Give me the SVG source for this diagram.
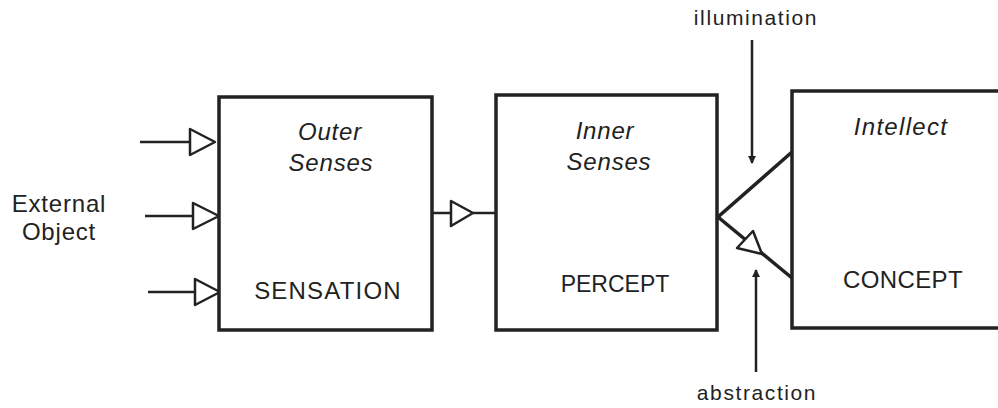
<svg xmlns="http://www.w3.org/2000/svg" width="998" height="408" viewBox="0 0 998 408">
<style>
.box{fill:#fff;stroke:#222;stroke-width:3.5}
.ln{fill:none;stroke:#222;stroke-width:2.5}
.thick{fill:none;stroke:#222;stroke-width:3.5}
.tri{fill:#fff;stroke:#222;stroke-width:2.5;stroke-linejoin:round}
text{font-family:"Liberation Sans",Arial,sans-serif;font-size:24px;fill:#222;letter-spacing:0.8px}
.it{font-style:italic}
.lab{font-size:21px;letter-spacing:1.6px}
</style>
<defs>
<marker id="ah" markerWidth="8" markerHeight="10" refX="7" refY="5" orient="auto" markerUnits="userSpaceOnUse">
<path d="M0,1 L8,5 L0,9 z" fill="#222"/>
</marker>
</defs>
<rect width="998" height="408" fill="#fff"/>
<g id="connectors">
<line class="ln" x1="140" y1="142" x2="190" y2="142"/>
<polygon class="tri" points="190,129 215,142 190,155"/>
<line class="ln" x1="145" y1="216" x2="193" y2="216"/>
<polygon class="tri" points="193,203 219,216 193,229"/>
<line class="ln" x1="148" y1="292" x2="195" y2="292"/>
<polygon class="tri" points="195,279 220,292 195,305"/>
<line class="ln" x1="432" y1="213" x2="451" y2="213"/>
<polygon class="tri" points="451,201 473,213 451,226"/>
<line class="ln" x1="473" y1="213" x2="496" y2="213"/>
<polyline class="thick" points="792,152 718,217 792,278"/>
<polygon class="tri" points="737,248 753,231 762,254"/>
<line class="ln" x1="752" y1="40" x2="752" y2="163" marker-end="url(#ah)"/>
<line class="ln" x1="756" y1="372" x2="756" y2="270" marker-end="url(#ah)"/>
</g>
<g id="external">
<text x="59" y="212" text-anchor="middle">External</text>
<text x="59" y="240" text-anchor="middle">Object</text>
</g>
<g id="sensation">
<rect class="box" x="219" y="97" width="213" height="233"/>
<text class="it" x="330" y="140" text-anchor="middle">Outer</text>
<text class="it" x="331" y="171" text-anchor="middle">Senses</text>
<text x="328" y="299" text-anchor="middle" style="letter-spacing:1.2px">SENSATION</text>
</g>
<g id="percept">
<rect class="box" x="496" y="95" width="221" height="235"/>
<text class="it" x="605" y="139" text-anchor="middle">Inner</text>
<text class="it" x="609" y="170" text-anchor="middle">Senses</text>
<text x="615" y="292" text-anchor="middle" style="font-size:23px;letter-spacing:0">PERCEPT</text>
</g>
<g id="concept">
<rect class="box" x="792" y="91" width="220" height="237"/>
<text class="it" x="901" y="135" text-anchor="middle" style="letter-spacing:1.3px">Intellect</text>
<text x="903" y="288" text-anchor="middle" style="letter-spacing:0.4px">CONCEPT</text>
</g>
<g id="labels">
<text class="lab" x="756" y="25" text-anchor="middle">illumination</text>
<text class="lab" x="757" y="400" text-anchor="middle">abstraction</text>
</g>
</svg>
